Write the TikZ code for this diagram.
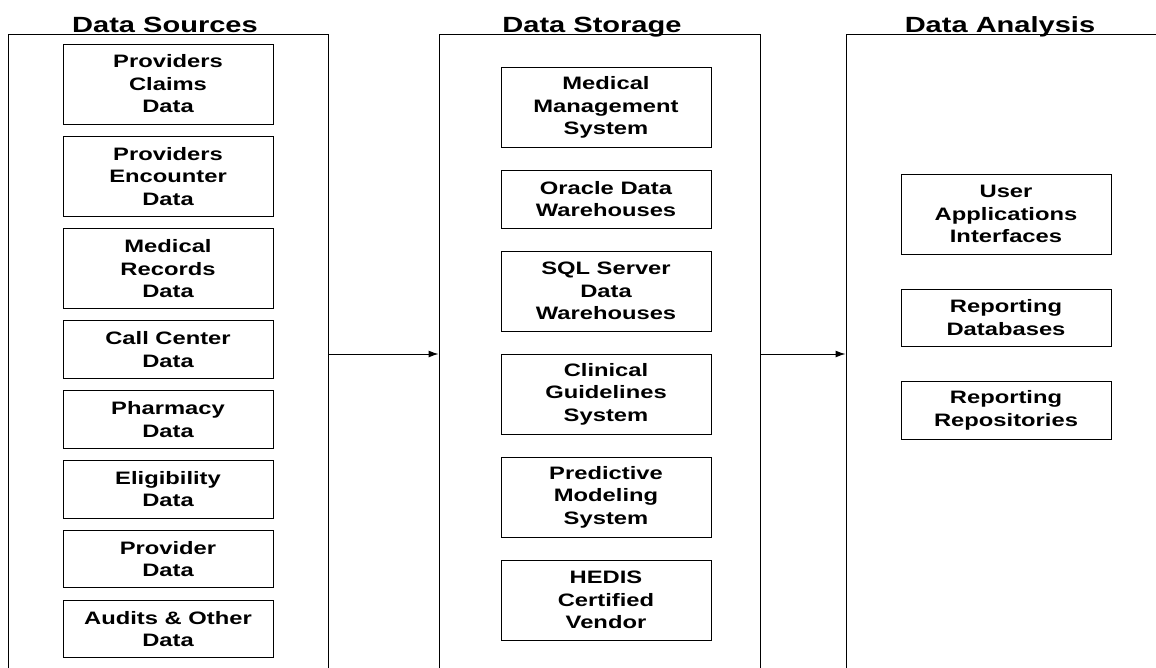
\documentclass[tikz,border=0pt]{standalone}
\usepackage{fontspec}
\newfontfamily\diagfont{Liberation Sans}[FakeStretch=1.32]
\usetikzlibrary{positioning,arrows.meta}

\begin{document}
\begin{tikzpicture}[x=1pt,y=-1pt,>={Latex[length=10pt,width=7pt]},
  panel/.style={draw,line width=1pt,minimum width=320pt,minimum height=640pt,inner sep=0pt},
  title/.style={anchor=base,font=\diagfont\bfseries\fontsize{22}{26}\selectfont},
  item/.style={draw,line width=1pt,minimum width=210pt,minimum height=57.5pt,
    align=center,inner sep=0pt,font=\diagfont\bfseries\fontsize{18}{22.5}\selectfont},
  tall/.style={item,minimum height=80pt}]
  \useasboundingbox (0,0) rectangle (1156,667);
  \clip (0,0) rectangle (1156,667);
  % the three panels
  \node[panel] (src) at (168,354) {};
  \node[panel,minimum width=321pt] (sto) at (599.5,354) {};
  \node[panel] (ana) at (1006,354) {};
  \node[title] (srctitle) at (165,32) {Data Sources};
  \node[title] (stotitle) at (592,32) {Data Storage};
  \node[title] (anatitle) at (1000,32) {Data Analysis};
  % sources
  \node[tall] (claims) at (168,84) {Providers\\Claims\\Data};
  \node[tall,below=11.3pt of claims] (encounter) {Providers\\Encounter\\Data};
  \node[tall,below=11.3pt of encounter] (records) {Medical\\Records\\Data};
  \node[item,below=11.3pt of records] (callcenter) {Call Center\\Data};
  \node[item,below=11.3pt of callcenter] (pharmacy) {Pharmacy\\Data};
  \node[item,below=11.3pt of pharmacy] (eligibility) {Eligibility\\Data};
  \node[item,below=11.3pt of eligibility] (provider) {Provider\\Data};
  \node[item,below=11.3pt of provider] (audits) {Audits \& Other\\Data};
  % storage
  \node[tall] (medmgmt) at (606,107.5) {Medical\\Management\\System};
  \node[item,below=22pt of medmgmt] (oracle) {Oracle Data\\Warehouses};
  \node[tall,below=22pt of oracle] (sqlserver) {SQL Server\\Data\\Warehouses};
  \node[tall,below=22pt of sqlserver] (clinical) {Clinical\\Guidelines\\System};
  \node[tall,below=22pt of clinical] (predictive) {Predictive\\Modeling\\System};
  \node[tall,below=22pt of predictive] (hedis) {HEDIS\\Certified\\Vendor};
  % analysis
  \node[tall] (userapps) at (1006,214) {User\\Applications\\Interfaces};
  \node[item,below=34pt of userapps] (repdb) {Reporting\\Databases};
  \node[item,below=34pt of repdb] (reprepo) {Reporting\\Repositories};
  % flow
  \draw[->,line width=1pt] (src.east) -- (sto.west);
  \draw[->,line width=1pt] (sto.east) -- (ana.west);
\end{tikzpicture}
\end{document}
